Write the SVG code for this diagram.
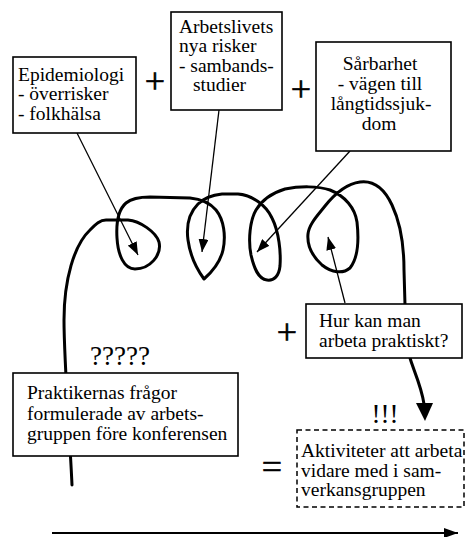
<svg xmlns="http://www.w3.org/2000/svg" width="468" height="537" viewBox="0 0 468 537">
<style>
.box{fill:#fff;stroke:#000;stroke-width:1.6}
.dash{fill:#fff;stroke:#000;stroke-width:1.5;stroke-dasharray:5,3.5}
.t{font-family:"Liberation Serif","Times New Roman",serif;font-size:19.5px;fill:#000}
.big{font-family:"Liberation Serif","Times New Roman",serif;font-size:36px;fill:#000;stroke:#000;stroke-width:0.6;text-anchor:middle}
.q{font-family:"Liberation Serif","Times New Roman",serif;font-size:27px;fill:#000;text-anchor:middle}
.ptr{stroke:#000;stroke-width:1.3;fill:none;marker-end:url(#ah)}
.curve{stroke:#000;stroke-width:3;fill:none;stroke-linejoin:round;stroke-linecap:round}
</style>
<defs>
<marker id="ah" viewBox="0 0 13 10" refX="13" refY="5" markerWidth="13" markerHeight="10" markerUnits="userSpaceOnUse" orient="auto">
<path d="M0,0 L13,5 L0,10 Z" fill="#000"/>
</marker>
<marker id="ah2" viewBox="0 0 14 10" refX="14" refY="5" markerWidth="14" markerHeight="10" markerUnits="userSpaceOnUse" orient="auto">
<path d="M0,0 L14,5 L0,10 Z" fill="#000"/>
</marker>
</defs>
<g id="connectors">
<path class="curve" d="M72,485 C70,440 64,360 64,320 C64,280 74,245 90,230 C96,224 100,220 106,220 L128,220 C140,221 156,232 159,242 C162,255 150,269 135,269 C124,269 118,255 117,238 C116,222 118,210 126,203 C132,198 140,197 150,197 L190,198 C200,199 210,203 216,210 C224,220 226,236 223,250 C220,263 212,272 204,279 C196,268 190,255 188,240 C186,225 190,212 198,204 C204,198 212,195 222,194 L238,194 C252,195 266,205 272,218 C279,232 281,252 280,266 C279,276 274,281 267,280 C258,279 254,268 251,255 C248,240 250,220 256,210 C262,200 272,193 285,189 C300,186 318,186 330,190 C345,196 355,208 357,222 C359,240 358,258 350,268 C343,274 332,273 322,265 C312,256 307,245 308,234 C309,224 318,215 325,206 C333,196 345,184 360,182 C375,180 385,190 392,205 C400,222 404,245 404,270 L406,340 C408,362 420,378 424,404"/>
<path d="M416,403 L433,403 L425,421 Z" fill="#000"/>
<line class="ptr" x1="77" y1="133" x2="138" y2="255"/>
<line class="ptr" x1="219" y1="110" x2="202" y2="252"/>
<line class="ptr" x1="350" y1="151" x2="257" y2="252"/>
<line class="ptr" x1="345" y1="303" x2="328" y2="237"/>
<line x1="52" y1="533" x2="458" y2="533" stroke="#000" stroke-width="2" marker-end="url(#ah2)"/>
</g>
<g id="epidemiologi">
<rect class="box" x="13" y="57" width="123" height="76"/>
<text class="t" x="18" y="81">Epidemiologi</text>
<text class="t" x="18" y="100">- överrisker</text>
<text class="t" x="18" y="120">- folkhälsa</text>
</g>
<g id="arbetslivets">
<rect class="box" x="171" y="12" width="111" height="98"/>
<text class="t" x="179" y="33">Arbetslivets</text>
<text class="t" x="179" y="52">nya risker</text>
<text class="t" x="179" y="72">- sambands-</text>
<text class="t" x="193" y="91">studier</text>
</g>
<g id="sarbarhet">
<rect class="box" x="316" y="42" width="135" height="109"/>
<text class="t" x="380" y="70" text-anchor="middle">Sårbarhet</text>
<text class="t" x="380" y="90" text-anchor="middle">- vägen till</text>
<text class="t" x="381" y="110" text-anchor="middle">långtidssjuk-</text>
<text class="t" x="379" y="130" text-anchor="middle">dom</text>
</g>
<g id="hurkanman">
<rect class="box" x="306" y="304" width="156" height="54"/>
<text class="t" x="319" y="327">Hur kan man</text>
<text class="t" x="319" y="347">arbeta praktiskt?</text>
</g>
<g id="praktikernas">
<rect class="box" x="13" y="373" width="225" height="83"/>
<text class="t" x="27" y="399">Praktikernas frågor</text>
<text class="t" x="27" y="420">formulerade av arbets-</text>
<text class="t" x="27" y="440">gruppen före konferensen</text>
</g>
<g id="aktiviteter">
<rect class="dash" x="297" y="430" width="167" height="77"/>
<text class="t" x="301" y="457">Aktiviteter att arbeta</text>
<text class="t" x="301" y="477">vidare med i sam-</text>
<text class="t" x="301" y="496">verkansgruppen</text>
</g>
<g id="symbols">
<text class="big" x="155" y="93">+</text>
<text class="big" x="301" y="101">+</text>
<text class="big" x="287" y="344">+</text>
<text class="big" x="272" y="479">=</text>
<text class="q" x="120" y="365">?????</text>
<text class="q" x="385" y="423">!!!</text>
</g>
</svg>
